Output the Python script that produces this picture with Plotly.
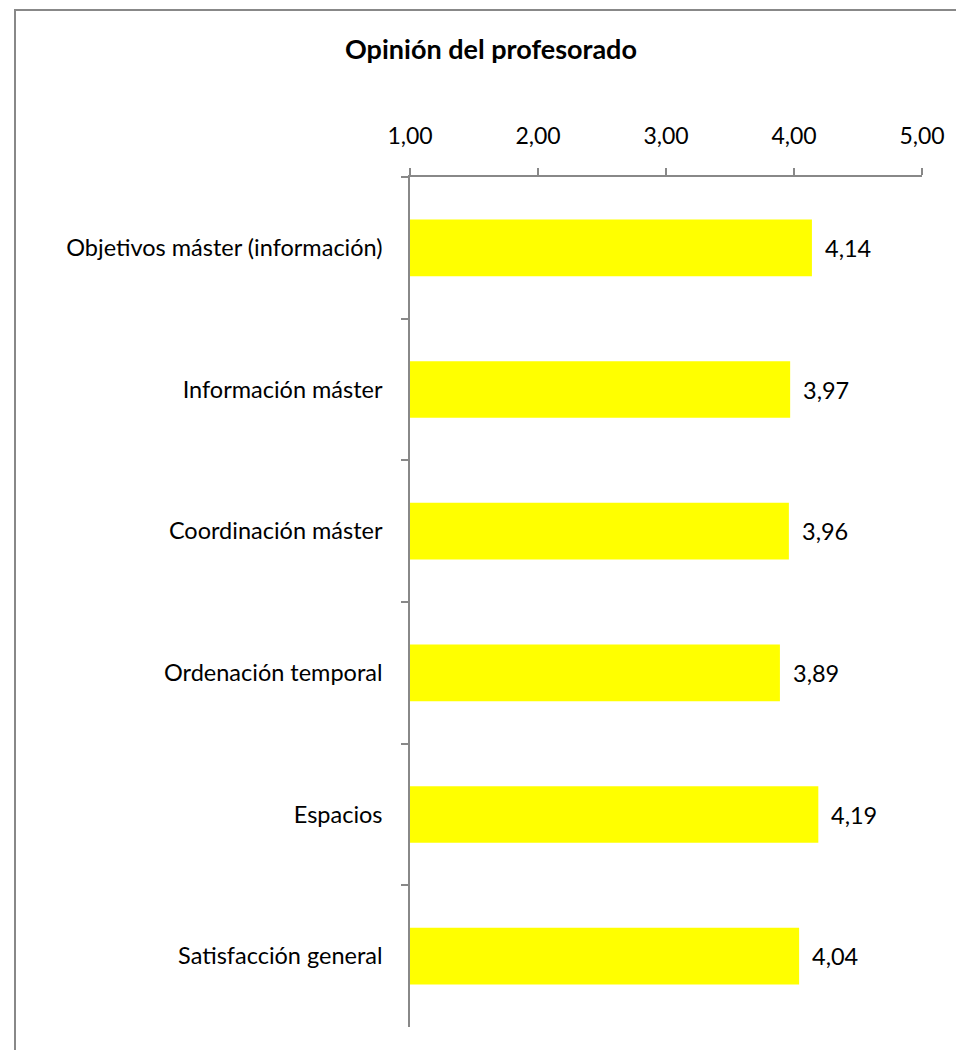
import plotly.graph_objects as go

categories = ["Objetivos máster (información)", "Información máster", "Coordinación máster",
              "Ordenación temporal", "Espacios", "Satisfacción general"]
values = [4.14, 3.97, 3.96, 3.89, 4.19, 4.04]
x_ticks = [1, 2, 3, 4, 5]
title = "Opinión del profesorado"

FONT = "Lato"
W, H = 956, 1050
ML, MT = 410, 177
MR = W - 922
MB = H - 1027
pw, ph = W - ML - MR, H - MT - MB

fig = go.Figure()
fig.add_trace(go.Bar(
    x=[v - 1 for v in values], y=categories, orientation="h", base=1,
    marker=dict(color="#FFFF00", line=dict(width=0)),
    hoverinfo="skip",
))

for c, v in zip(categories, values):
    fig.add_annotation(x=v, y=c, text=f"{v:.2f}".replace(".", ","), showarrow=False,
                       xanchor="left", xshift=11, font=dict(family=FONT, size=23.5, color="#000"))

def px_x(p):
    return (p - ML) / pw

def px_y(p):
    return (H - MB - p) / ph

fig.add_shape(type="rect", xref="paper", yref="paper",
              x0=px_x(15), x1=px_x(1100), y0=px_y(1200), y1=px_y(10),
              line=dict(color="#888888", width=2), fillcolor="rgba(0,0,0,0)")

fig.update_layout(
    width=W, height=H, margin=dict(l=ML, r=MR, t=MT, b=MB),
    plot_bgcolor="white", paper_bgcolor="white",
    separators=",.",
    showlegend=False, bargap=0.6,
    title=dict(text=f"<b>{title}</b>", x=491 / W, xanchor="center",
               y=1 - 50 / H, yanchor="middle",
               font=dict(family=FONT, size=27, color="#000")),
    font=dict(family=FONT, size=23.5, color="#000"),
)
fig.update_xaxes(side="top", range=[1, 5], tickvals=x_ticks, tickformat=".2f",
                 showgrid=False, zeroline=False, showline=True, linecolor="#888888", linewidth=2,
                 ticks="outside", ticklen=7, tickcolor="#888888", tickwidth=1.5,
                 ticklabelstandoff=15, tickfont=dict(family=FONT, size=23))
fig.update_yaxes(autorange="reversed", type="category", showgrid=False, zeroline=False,
                 showline=True, linecolor="#888888", linewidth=1.5,
                 ticks="outside", ticklen=7, tickcolor="#888888", tickwidth=1.5, tickson="boundaries",
                 ticklabelstandoff=21, tickfont=dict(family=FONT, size=23.5))

fig.write_html("out.html", config={"displayModeBar": False},
               post_script="document.body.style.margin='0';document.body.style.overflow='hidden';")
